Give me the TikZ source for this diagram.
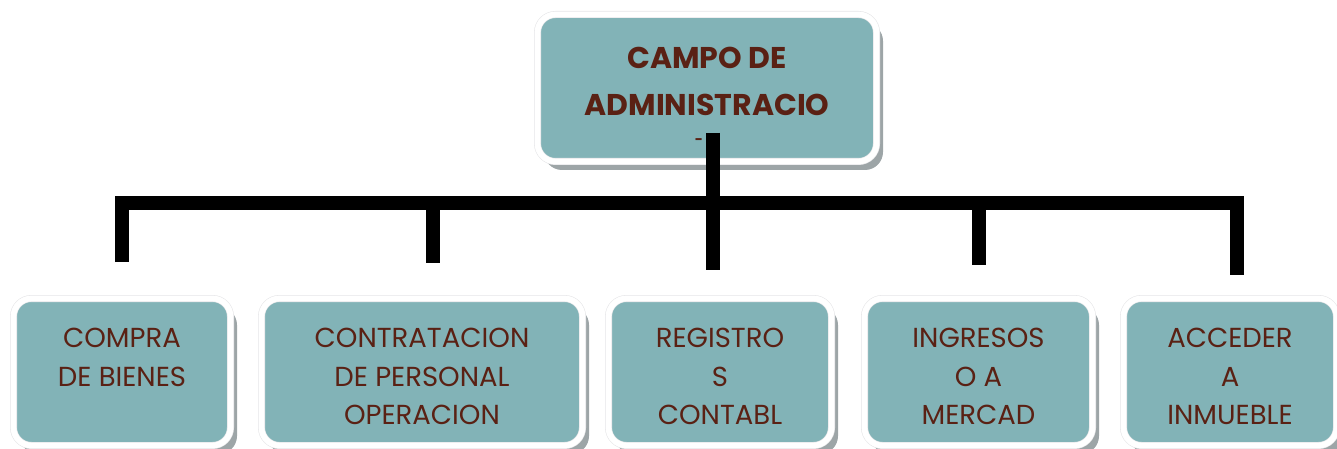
\documentclass[tikz,border=0pt]{standalone}
\usepackage{fontspec}
\setmainfont{Poppins}
\usetikzlibrary{shadows}
\definecolor{tealfill}{HTML}{82B3B7}
\definecolor{txtbrown}{HTML}{5A2114}
\definecolor{shadowgray}{HTML}{9DA5A7}
\definecolor{rimgray}{HTML}{E6E6E8}
\newcommand{\bxtxt}[4]{\parbox[c][#2][t]{#1}{\centering\vspace*{#3}#4\par}}
\tikzset{
  tealbox/.style={rectangle, rounded corners=18pt, fill=tealfill,
    draw=rimgray, line width=0.6pt, double=white, double distance=5.8pt,
    inner sep=0pt, text=txtbrown,
    drop shadow={shadow xshift=6.5pt, shadow yshift=-8.5pt, fill=shadowgray, opacity=1}},
  subtext/.style={font=\fontsize{27.5}{38.5}\selectfont},
  toptext/.style={font=\fontsize{30}{47}\selectfont\bfseries},
  bar/.style={line width=14pt, line join=miter, line cap=butt, draw=black}
}
\begin{document}
\begin{tikzpicture}[x=1pt,y=-1pt]
\useasboundingbox (0,0) rectangle (1337,449);
% top box
\node[tealbox, toptext, minimum width=339, minimum height=147] (top) at (707,88)
  {\bxtxt{330pt}{147pt}{33pt}{CAMPO DE\\ADMINISTRACIO\\[-18pt]{\fontsize{14}{14}\selectfont -}\hspace*{16pt}}};
% bottom boxes
\node[tealbox, subtext, minimum width=217, minimum height=147] (b1) at (122,372)
  {\bxtxt{210pt}{147pt}{30pt}{COMPRA\\DE BIENES}};
\node[tealbox, subtext, minimum width=321, minimum height=147] (b2) at (422,372)
  {\bxtxt{314pt}{147pt}{30pt}{CONTRATACION\\DE PERSONAL\\OPERACION}};
\node[tealbox, subtext, minimum width=223, minimum height=147] (b3) at (720,372)
  {\bxtxt{216pt}{147pt}{30pt}{REGISTRO\\S\\CONTABL}};
\node[tealbox, subtext, minimum width=228, minimum height=147] (b4) at (978.5,372)
  {\bxtxt{221pt}{147pt}{30pt}{INGRESOS\\O A\\MERCAD}};
\node[tealbox, subtext, minimum width=213, minimum height=147] (b5) at (1230,372)
  {\bxtxt{206pt}{147pt}{30pt}{ACCEDER\\A\\INMUEBLE}};
% connector points
\coordinate (hubtop) at (712.5,133);
\coordinate (hubend) at (712.5,270);
\coordinate (barL) at (122,203);
\coordinate (barR) at (1237,203);
\coordinate (d1) at (122,262);
\coordinate (d2top) at (433,203);
\coordinate (d2) at (433,263);
\coordinate (d4top) at (979,203);
\coordinate (d4) at (979,265);
\coordinate (d5) at (1237,275);
% connectors
\draw[bar] (d1) -- (barL) -- (barR) -- (d5);
\draw[bar] (hubtop) -- (hubend);
\draw[bar] (d2top) -- (d2);
\draw[bar] (d4top) -- (d4);
\end{tikzpicture}
\end{document}
